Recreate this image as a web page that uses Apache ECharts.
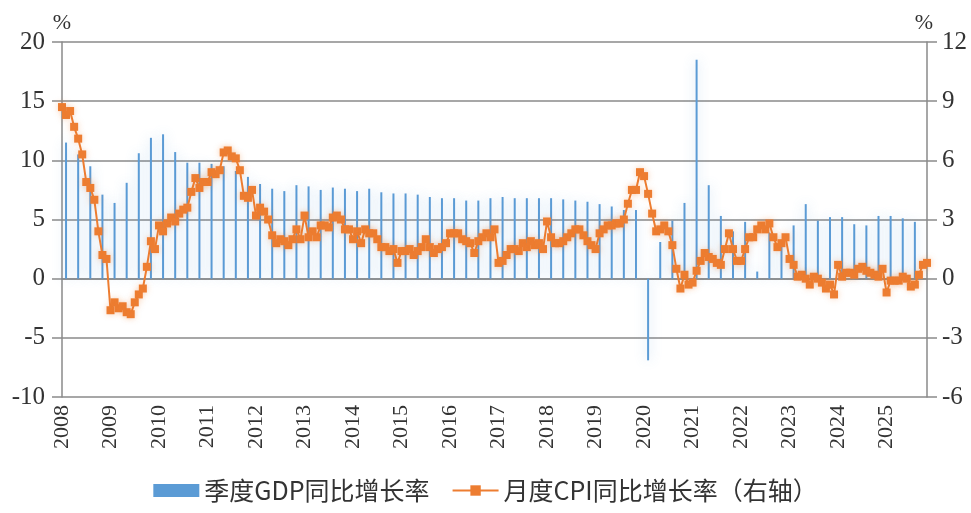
<!DOCTYPE html>
<html>
<head>
<meta charset="utf-8">
<script src="https://cdn.jsdelivr.net/npm/echarts@6/dist/echarts.min.js"></script>
<style>
html,body{margin:0;padding:0;background:#fff;}
#chart{width:971px;height:513px;}
</style>
</head>
<body>
<div id="chart"></div>
<script>
// Year tick labels (shown every 12 months, starting with the first category)
const yearLabels = ['2008','2009','2010','2011','2012','2013','2014','2015','2016','2017','2018','2019','2020','2021','2022','2023','2024','2025'];

// Quarterly GDP YoY growth (%), 2008Q1 .. 2025Q3
const gdpQuarterly = [
  11.5, 10.5, 9.5, 7.1,
  6.4, 8.1, 10.6, 11.9,
  12.2, 10.7, 9.8, 9.8,
  9.7, 9.5, 9.1, 8.6,
  8.0, 7.6, 7.4, 7.9,
  7.8, 7.5, 7.7, 7.6,
  7.4, 7.6, 7.3, 7.2,
  7.2, 7.1, 6.9, 6.8,
  6.8, 6.6, 6.6, 6.8,
  6.9, 6.8, 6.8, 6.8,
  6.8, 6.7, 6.6, 6.5,
  6.3, 6.1, 5.8, 5.8,
  -6.9, 3.1, 4.9, 6.4,
  18.5, 7.9, 5.3, 4.0,
  4.8, 0.6, 3.9, 2.9,
  4.5, 6.3, 4.9, 5.2,
  5.2, 4.6, 4.5, 5.3,
  5.3, 5.1, 4.8
];

// Monthly CPI YoY (%), 2008-02 .. 2025-12
const cpi2008 = [8.7, 8.3, 8.5, 7.7, 7.1, 6.3, 4.9, 4.6, 4.0, 2.4, 1.2];
const cpi2009 = [1.0, -1.6, -1.2, -1.5, -1.4, -1.7, -1.8, -1.2, -0.8, -0.5, 0.6, 1.9];
const cpi2010 = [1.5, 2.7, 2.4, 2.8, 3.1, 2.9, 3.3, 3.5, 3.6, 4.4, 5.1, 4.6];
const cpi2011 = [4.9, 4.9, 5.4, 5.3, 5.5, 6.4, 6.5, 6.2, 6.1, 5.5, 4.2, 4.1];
const cpi2012 = [4.5, 3.2, 3.6, 3.4, 3.0, 2.2, 1.8, 2.0, 1.9, 1.7, 2.0, 2.5];
const cpi2013 = [2.0, 3.2, 2.1, 2.4, 2.1, 2.7, 2.7, 2.6, 3.1, 3.2, 3.0, 2.5];
const cpi2014 = [2.5, 2.0, 2.4, 1.8, 2.5, 2.3, 2.3, 2.0, 1.6, 1.6, 1.4, 1.5];
const cpi2015 = [0.8, 1.4, 1.4, 1.5, 1.2, 1.4, 1.6, 2.0, 1.6, 1.3, 1.5, 1.6];
const cpi2016 = [1.8, 2.3, 2.3, 2.3, 2.0, 1.9, 1.8, 1.3, 1.9, 2.1, 2.3, 2.1];
const cpi2017 = [2.5, 0.8, 0.9, 1.2, 1.5, 1.5, 1.4, 1.8, 1.6, 1.9, 1.7, 1.8];
const cpi2018 = [1.5, 2.9, 2.1, 1.8, 1.8, 1.9, 2.1, 2.3, 2.5, 2.5, 2.2, 1.9];
const cpi2019 = [1.7, 1.5, 2.3, 2.5, 2.7, 2.7, 2.8, 2.8, 3.0, 3.8, 4.5, 4.5];
const cpi2020 = [5.4, 5.2, 4.3, 3.3, 2.4, 2.5, 2.7, 2.4, 1.7, 0.5, -0.5, 0.2];
const cpi2021 = [-0.3, -0.2, 0.4, 0.9, 1.3, 1.1, 1.0, 0.8, 0.7, 1.5, 2.3, 1.5];
const cpi2022 = [0.9, 0.9, 1.5, 2.1, 2.1, 2.5, 2.7, 2.5, 2.8, 2.1, 1.6, 1.8];
const cpi2023 = [2.1, 1.0, 0.7, 0.1, 0.2, 0.0, -0.3, 0.1, 0.0, -0.2, -0.5, -0.3];
const cpi2024 = [-0.8, 0.7, 0.1, 0.3, 0.3, 0.2, 0.5, 0.6, 0.4, 0.3, 0.2, 0.1];
const cpi2025 = [0.5, -0.7, -0.1, -0.1, -0.1, 0.1, 0.0, -0.4, -0.3, 0.2, 0.7, 0.8];

const cpiMonthly = [].concat(cpi2008, cpi2009, cpi2010, cpi2011, cpi2012, cpi2013, cpi2014,
  cpi2015, cpi2016, cpi2017, cpi2018, cpi2019, cpi2020, cpi2021, cpi2022, cpi2023, cpi2024, cpi2025);

// Month categories 2008-02 .. 2025-12
const months = [];
for (let y = 2008; y <= 2025; y++) {
  for (let m = 1; m <= 12; m++) {
    if (y === 2008 && m === 1) continue;
    months.push(y + '-' + (m < 10 ? '0' + m : m));
  }
}

// Place each quarterly GDP value at its quarter-end month (Mar, Jun, Sep, Dec)
const gdpSeries = months.map(() => '-');
gdpQuarterly.forEach((v, q) => {
  const idx = 1 + 3 * q;
  if (idx < gdpSeries.length) gdpSeries[idx] = v;
});

const gridColor = '#8a8a8a';
const serif = '"Liberation Serif", "DejaVu Serif", serif';
const cjk = '"Noto Sans CJK SC", "Noto Sans", sans-serif';

const chart = echarts.init(document.getElementById('chart'), null, {renderer: 'canvas'});
chart.setOption({
  animation: false,
  backgroundColor: '#ffffff',
  grid: {left: 62, right: 44, top: 42, bottom: 116, containLabel: false},
  legend: {
    bottom: 5,
    left: 'center',
    itemGap: 22,
    itemWidth: 46,
    itemHeight: 13,
    textStyle: {fontFamily: cjk, fontSize: 25, color: '#333'},
    data: [
      {name: '季度GDP同比增长率', icon: 'rect'},
      {name: '月度CPI同比增长率（右轴）'}
    ]
  },
  xAxis: {
    type: 'category',
    data: months,
    boundaryGap: false,
    axisLine: {show: true, lineStyle: {color: gridColor, width: 1.5}},
    axisTick: {show: false},
    axisLabel: {
      interval: (idx) => idx % 12 === 0,
      formatter: (v, idx) => yearLabels[Math.floor(idx / 12)],
      rotate: 90,
      margin: 8,
      fontFamily: serif,
      fontSize: 22,
      color: '#333'
    },
    splitLine: {show: false}
  },
  yAxis: [
    {
      type: 'value', min: -10, max: 20, interval: 5,
      name: '%', nameLocation: 'end', nameGap: 8,
      nameTextStyle: {fontFamily: serif, fontSize: 22, color: '#333', align: 'center'},
      axisLine: {show: true, lineStyle: {color: gridColor, width: 1.5}},
      axisTick: {show: true, length: 10, lineStyle: {color: gridColor, width: 1.5}},
      axisLabel: {margin: 17, fontFamily: serif, fontSize: 25, color: '#333'},
      splitLine: {show: true, lineStyle: {color: gridColor, width: 1.5}}
    },
    {
      type: 'value', min: -6, max: 12, interval: 3,
      name: '%', nameLocation: 'end', nameGap: 8,
      nameTextStyle: {fontFamily: serif, fontSize: 22, color: '#333', align: 'center', padding: [0, 6, 0, 0]},
      axisLine: {show: true, lineStyle: {color: gridColor, width: 1.5}},
      axisTick: {show: true, length: 10, lineStyle: {color: gridColor, width: 1.5}},
      axisLabel: {margin: 15, fontFamily: serif, fontSize: 25, color: '#333'},
      splitLine: {show: false}
    }
  ],
  series: [
    {
      name: '季度GDP同比增长率',
      type: 'bar',
      yAxisIndex: 0,
      data: gdpSeries,
      barWidth: 2,
      itemStyle: {
        color: '#5b9bd5',
        shadowColor: 'rgba(91,155,213,0.45)',
        shadowBlur: 12
      },
      z: 2
    },
    {
      name: '月度CPI同比增长率（右轴）',
      type: 'line',
      yAxisIndex: 1,
      data: cpiMonthly,
      symbol: 'rect',
      symbolSize: 8,
      showAllSymbol: true,
      lineStyle: {color: '#ed7d31', width: 2},
      itemStyle: {color: '#ed7d31', shadowColor: 'rgba(237,125,49,0.35)', shadowBlur: 6},
      z: 3
    }
  ]
});
</script>
</body>
</html>
